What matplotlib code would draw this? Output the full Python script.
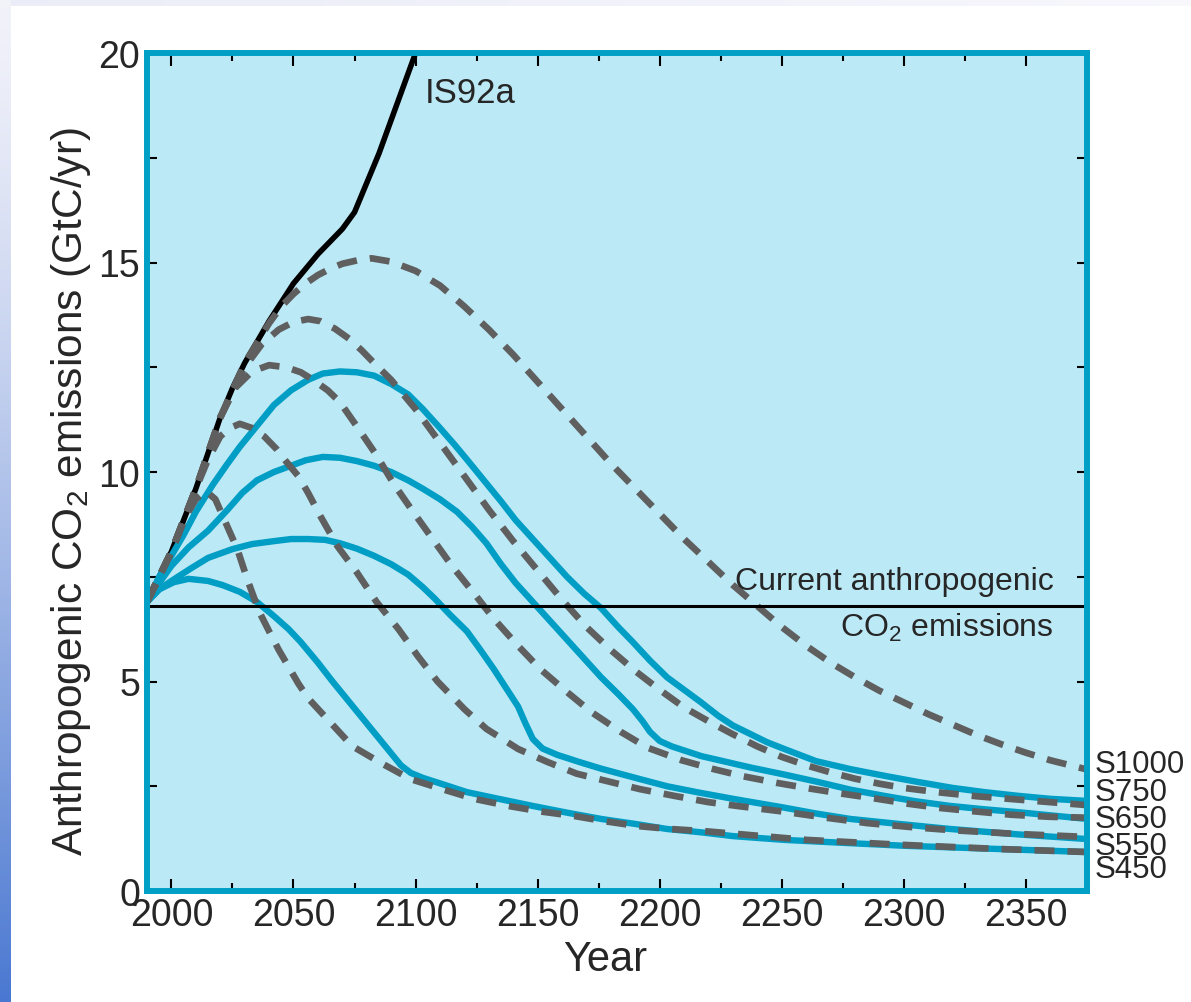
import numpy as np
import matplotlib
matplotlib.use("Agg")
import matplotlib.pyplot as plt
import matplotlib.transforms as mtransforms

plt.rcParams['font.family'] = ['Liberation Sans', 'DejaVu Sans']
plt.rcParams['mathtext.fontset'] = 'custom'
plt.rcParams['mathtext.rm'] = 'Liberation Sans'
plt.rcParams['mathtext.it'] = 'Liberation Sans'

# ── data ──────────────────────────────────────────────────────────────────────
IS92A_YEAR = [1990, 1995, 2000, 2005, 2010, 2015, 2020, 2025, 2030, 2035, 2040,
              2045, 2050, 2055, 2060, 2065, 2070, 2075, 2080, 2085, 2090, 2095,
              2100, 2101]
IS92A_VAL = [6.9, 7.5, 8.1, 8.85, 9.6, 10.45, 11.3, 12.0, 12.6, 13.1, 13.6,
             14.05, 14.5, 14.85, 15.2, 15.5, 15.8, 16.2, 16.9, 17.6, 18.4, 19.2,
             20.0, 20.2]

# WRE profiles (dashed)
WRE1000_YEAR = [1990, 2000, 2010, 2020, 2030, 2040, 2045, 2050, 2055, 2060, 2065,
                2070, 2076, 2082, 2090, 2100, 2110, 2120, 2130, 2140, 2150, 2160,
                2170, 2180, 2190, 2200, 2210, 2220, 2230, 2240, 2250, 2260, 2270,
                2280, 2290, 2300, 2310, 2320, 2330, 2340, 2350, 2360, 2375]
WRE1000_VAL = [6.9, 8.1, 9.6, 11.3, 12.6, 13.55, 13.95, 14.25, 14.5, 14.7, 14.85,
               14.97, 15.05, 15.1, 15.02, 14.8, 14.45, 13.95, 13.4, 12.8, 12.15, 11.5,
               10.85, 10.2, 9.6, 9.0, 8.4, 7.85, 7.3, 6.8, 6.3, 5.85, 5.45,
               5.1, 4.78, 4.5, 4.22, 3.97, 3.72, 3.5, 3.3, 3.12, 2.9]

WRE750_YEAR = [1990, 2000, 2010, 2020, 2030, 2037, 2044, 2050, 2056, 2061, 2067,
               2073, 2078, 2083, 2090, 2100, 2110, 2120, 2130, 2140, 2150, 2160,
               2170, 2180, 2190, 2200, 2210, 2220, 2230, 2240, 2250, 2260, 2270,
               2280, 2290, 2300, 2315, 2330, 2345, 2360, 2375]
WRE750_VAL = [6.9, 8.1, 9.6, 11.3, 12.5, 13.05, 13.4, 13.58, 13.65, 13.6, 13.42,
              13.17, 12.9, 12.6, 12.2, 11.5, 10.7, 9.9, 9.1, 8.35, 7.65, 6.95,
              6.3, 5.75, 5.25, 4.8, 4.38, 4.05, 3.74, 3.45, 3.2, 3.0, 2.83,
              2.68, 2.56, 2.46, 2.35, 2.26, 2.19, 2.12, 2.05]

WRE650_YEAR = [1990, 2000, 2010, 2020, 2026, 2033, 2040, 2047, 2053, 2058, 2064,
               2069, 2077, 2084, 2091, 2099, 2107, 2115, 2124, 2132, 2142, 2151,
               2162, 2172, 2184, 2195, 2209, 2222, 2234, 2248, 2262, 2275, 2289,
               2302, 2315, 2329, 2344, 2360, 2375]
WRE650_VAL = [6.9, 8.1, 9.6, 11.3, 12.0, 12.4, 12.55, 12.5, 12.38, 12.2, 11.95,
              11.67, 11.0, 10.4, 9.72, 9.05, 8.4, 7.75, 7.1, 6.5, 5.85, 5.3,
              4.75, 4.27, 3.8, 3.42, 3.12, 2.91, 2.74, 2.58, 2.44, 2.32, 2.2,
              2.08, 1.98, 1.9, 1.82, 1.77, 1.75]

WRE550_YEAR = [1990, 2000, 2010, 2015, 2020, 2024, 2028, 2033, 2038, 2043, 2047,
               2052, 2056, 2061, 2068, 2076, 2084, 2093, 2101, 2109, 2120, 2129,
               2142, 2154, 2166, 2180, 2192, 2206, 2220, 2233, 2250, 2268, 2285,
               2302, 2320, 2347, 2375]
WRE550_VAL = [6.9, 8.1, 9.6, 10.3, 10.85, 11.05, 11.15, 11.05, 10.85, 10.55, 10.25,
              9.9, 9.5, 8.95, 8.23, 7.6, 6.9, 6.25, 5.6, 5.0, 4.34, 3.87,
              3.39, 3.08, 2.8, 2.6, 2.43, 2.27, 2.12, 2.02, 1.9, 1.75, 1.62,
              1.53, 1.45, 1.36, 1.29]

WRE450_YEAR = [1990, 2000, 2006, 2010, 2014, 2018, 2021, 2027, 2031, 2036, 2040,
               2044, 2048, 2052, 2056, 2065, 2074, 2086, 2098, 2111, 2124, 2138,
               2151, 2165, 2177, 2191, 2204, 2218, 2232, 2260, 2300, 2340, 2375]
WRE450_VAL = [6.9, 8.1, 8.95, 9.35, 9.55, 9.35, 8.95, 8.16, 7.45, 6.66, 6.2,
              5.75, 5.35, 4.95, 4.6, 4.03, 3.46, 3.05, 2.67, 2.43, 2.2, 2.03,
              1.9, 1.79, 1.67, 1.55, 1.48, 1.43, 1.36, 1.22, 1.1, 1.0, 0.93]

# S profiles (solid)
S750_YEAR = [1990, 1995, 2000, 2005, 2010, 2017, 2023, 2028, 2035, 2042, 2049,
             2056, 2062, 2069, 2076, 2083, 2090, 2097, 2103, 2110, 2116, 2121,
             2128, 2135, 2141, 2148, 2155, 2162, 2169, 2176, 2183, 2189, 2196,
             2203, 2210, 2217, 2224, 2230, 2237, 2244, 2251, 2264, 2278, 2292,
             2306, 2320, 2333, 2347, 2360, 2375]
S750_VAL = [6.9, 7.5, 8.0, 8.5, 9.05, 9.7, 10.2, 10.6, 11.1, 11.6, 11.95,
            12.2, 12.35, 12.4, 12.38, 12.3, 12.1, 11.85, 11.5, 11.05, 10.65, 10.3,
            9.8, 9.3, 8.85, 8.4, 7.95, 7.5, 7.1, 6.75, 6.3, 5.94, 5.5,
            5.1, 4.8, 4.5, 4.18, 3.95, 3.75, 3.55, 3.39, 3.1, 2.91, 2.75,
            2.6, 2.46, 2.36, 2.27, 2.2, 2.15]

S650_YEAR = [1990, 1995, 2000, 2007, 2015, 2023, 2029, 2035, 2042, 2049, 2055,
             2062, 2069, 2076, 2083, 2090, 2097, 2103, 2110, 2117, 2123, 2129,
             2135, 2141, 2148, 2155, 2162, 2169, 2176, 2183, 2189, 2193, 2196,
             2200, 2205, 2217, 2237, 2251, 2265, 2278, 2292, 2305, 2319, 2333,
             2347, 2361, 2375]
S650_VAL = [6.9, 7.35, 7.76, 8.2, 8.6, 9.1, 9.5, 9.8, 10.0, 10.15, 10.28,
            10.36, 10.34, 10.26, 10.15, 10.0, 9.8, 9.6, 9.35, 9.05, 8.7, 8.3,
            7.8, 7.35, 6.9, 6.45, 6.0, 5.55, 5.1, 4.7, 4.34, 4.05, 3.8,
            3.58, 3.45, 3.22, 2.95, 2.78, 2.6, 2.42, 2.27, 2.14, 2.03, 1.95,
            1.88, 1.8, 1.72]

S550_YEAR = [1990, 1995, 2000, 2008, 2015, 2025, 2033, 2042, 2049, 2056, 2063,
             2069, 2076, 2083, 2090, 2097, 2103, 2108, 2114, 2121, 2126, 2132,
             2137, 2142, 2145, 2148, 2152, 2158, 2167, 2176, 2190, 2203, 2216,
             2230, 2250, 2264, 2278, 2298, 2319, 2347, 2375]
S550_VAL = [6.9, 7.2, 7.4, 7.7, 7.95, 8.16, 8.28, 8.35, 8.4, 8.4, 8.38,
            8.3, 8.17, 8.0, 7.8, 7.55, 7.25, 6.97, 6.6, 6.2, 5.8, 5.3,
            4.85, 4.4, 4.0, 3.63, 3.4, 3.25, 3.08, 2.92, 2.7, 2.5, 2.35,
            2.2, 2.0, 1.85, 1.72, 1.6, 1.48, 1.35, 1.24]

S450_YEAR = [1990, 1995, 2001, 2007, 2015, 2021, 2028, 2035, 2042, 2048, 2053,
             2060, 2066, 2073, 2080, 2087, 2094, 2098, 2103, 2111, 2121, 2134,
             2148, 2162, 2176, 2190, 2203, 2217, 2230, 2251, 2275, 2300, 2340,
             2375]
S450_VAL = [6.9, 7.2, 7.37, 7.45, 7.4, 7.3, 7.14, 6.9, 6.56, 6.25, 5.94,
            5.45, 5.0, 4.5, 4.0, 3.5, 3.0, 2.82, 2.7, 2.55, 2.36, 2.2,
            2.03, 1.87, 1.72, 1.6, 1.48, 1.4, 1.31, 1.22, 1.15, 1.08, 1.0,
            0.93]

CURRENT_EMISSIONS = 6.8
PROFILE_LABELS = ["S1000", "S750", "S650", "S550", "S450"]
PROFILE_LABEL_Y = [3.03, 2.36, 1.72, 1.07, 0.53]

# ── styling ──────────────────────────────────────────────────────────────────
BG = "#BCE9F6"
FRAME = "#00A0C6"
TEAL = "#009DC4"
GREY = "#5f5f5f"
TXT = "#262626"

W, H = 1191, 1003
fig = plt.figure(figsize=(W / 100, H / 100), dpi=100)
fig.patch.set_facecolor("white")

# slide background strips (left vertical gradient, top light band)
left = fig.add_axes([0, 0, 11 / W, 1])
grad = np.linspace(0, 1, 256).reshape(-1, 1)
top_c = np.array([0.95, 0.95, 0.98])
bot_c = np.array([0.29, 0.47, 0.82])
img = top_c[None, None, :] * (1 - grad[..., None] ** 1.3) + bot_c[None, None, :] * grad[..., None] ** 1.3
left.imshow(img, aspect="auto", extent=[0, 1, 1, 0])
left.set_axis_off()
topb = fig.add_axes([11 / W, 1 - 7 / H, 1 - 11 / W, 7 / H])
g2 = np.linspace(0, 1, 256).reshape(1, -1)
c1 = np.array([0.92, 0.93, 0.97])
c2 = np.array([0.97, 0.97, 0.99])
img2 = c1[None, None, :] * (1 - g2[..., None]) + c2[None, None, :] * g2[..., None]
topb.imshow(img2, aspect="auto")
topb.set_axis_off()

ax = fig.add_axes([147 / W, 1 - 892 / H, (1087 - 147) / W, (892 - 54) / H])
ax.set_facecolor(BG)

ax.plot(IS92A_YEAR, IS92A_VAL, color="black", lw=4.0, zorder=2)

for yrs, vals in [(S750_YEAR, S750_VAL), (S650_YEAR, S650_VAL),
                  (S550_YEAR, S550_VAL), (S450_YEAR, S450_VAL)]:
    ax.plot(yrs, vals, color=TEAL, lw=4.6, zorder=3, solid_joinstyle="round")

for yrs, vals in [(WRE1000_YEAR, WRE1000_VAL), (WRE750_YEAR, WRE750_VAL),
                  (WRE650_YEAR, WRE650_VAL), (WRE550_YEAR, WRE550_VAL),
                  (WRE450_YEAR, WRE450_VAL)]:
    ax.plot(yrs, vals, color=GREY, lw=4.8, ls=(0, (3.0, 1.95)),
            dash_capstyle="butt", zorder=4)

ax.axhline(CURRENT_EMISSIONS, color="black", lw=2.2, zorder=5)

ax.set_xlim(1990, 2375)
ax.set_ylim(0, 20)
ax.set_xticks([2000, 2050, 2100, 2150, 2200, 2250, 2300, 2350])
ax.set_xticks([2025, 2075, 2125, 2175, 2225, 2275, 2325, 2375], minor=True)
ax.set_yticks([0, 5, 10, 15, 20])
ax.set_yticks([2.5, 7.5, 12.5, 17.5], minor=True)
ax.set_yticklabels(["0", "5", "10", "15", "20"])

ax.tick_params(which="both", direction="in", top=True, right=True,
               color="black", width=1.5, labelsize=27, labelcolor=TXT)
ax.tick_params(axis="x", which="major", length=9, pad=4)
ax.tick_params(axis="x", which="minor", length=5.5)
ax.tick_params(axis="y", which="both", length=7, pad=5)

for sp in ax.spines.values():
    sp.set_color(FRAME)
    sp.set_linewidth(4.3)
    sp.set_zorder(6)

ax.set_xlabel("Year", fontsize=30, color=TXT)
ax.xaxis.set_label_coords(0.487, -0.057)
ax.set_ylabel("Anthropogenic CO$_2$ emissions (GtC/yr)", fontsize=30.5, color=TXT)
ax.yaxis.set_label_coords(-0.057, 0.478)

ax.text(2103.9, 18.83, "IS92a", fontsize=25, color=TXT, va="baseline", ha="left")
ax.text(2361.3, 7.21, "Current anthropogenic", fontsize=23, color=TXT,
        va="baseline", ha="right", zorder=7)
ax.text(2361.3, 6.09, "CO$_2$ emissions", fontsize=23, color=TXT,
        va="baseline", ha="right", zorder=7)

trans = mtransforms.blended_transform_factory(ax.transAxes, ax.transData)
for lab, yv in zip(PROFILE_LABELS, PROFILE_LABEL_Y):
    ax.text(1.0085, yv, lab, transform=trans, fontsize=22.5, color=TXT,
            ha="left", va="center", clip_on=False)

fig.savefig("out.png", dpi=100, facecolor=fig.get_facecolor())
